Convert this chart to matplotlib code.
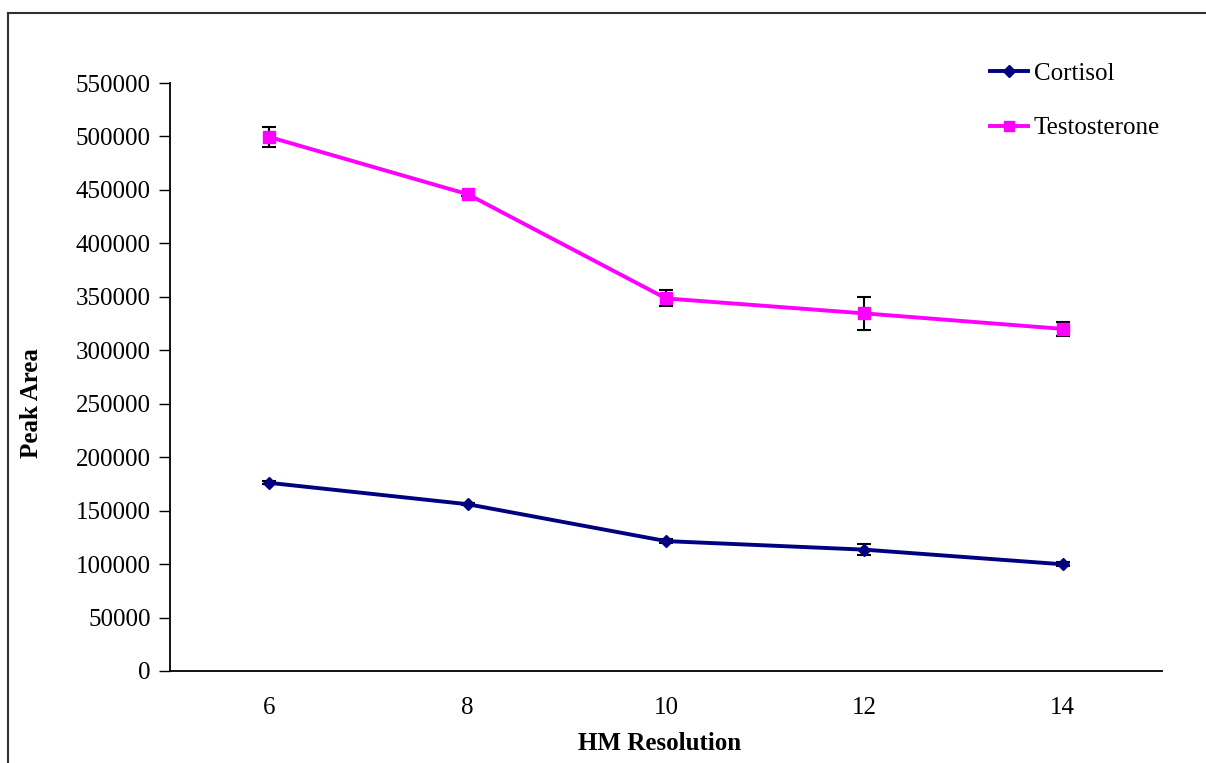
import numpy as np
import matplotlib.pyplot as plt
from matplotlib.lines import Line2D

plt.rcParams['font.family'] = ['Liberation Serif', 'DejaVu Serif']

# HM resolution settings
res = [6, 8, 10, 12, 14]

# peak areas with standard deviations
cortisol = [176000, 156000, 121500, 113500, 99800]
cortisol_err = [1500, 1200, 1500, 5000, 2000]
testosterone = [499500, 446000, 348500, 334500, 320000]
testosterone_err = [9700, 1500, 7500, 15800, 6300]

yticks = np.arange(0, 550001, 50000)

fig = plt.figure(figsize=(12.06, 7.63), dpi=100)
ax = fig.add_axes([0.141, 0.1206, 0.8225, 0.7706])

ax.errorbar(res, cortisol, yerr=cortisol_err, color='#000080', lw=2.8,
            marker='D', ms=6.5, ecolor='black', elinewidth=1.5, capsize=5,
            capthick=1.5, label='Cortisol', zorder=3)
ax.errorbar(res, testosterone, yerr=testosterone_err, color='#FF00FF', lw=2.8,
            marker='s', ms=8, ecolor='black', elinewidth=1.5, capsize=5,
            capthick=1.5, label='Testosterone', zorder=3)

ax.set_xlim(5, 15)
ax.set_ylim(0, 550000)
ax.set_xticks(res)
ax.set_yticks(yticks)
ax.set_yticklabels([str(v) for v in yticks])
ax.tick_params(axis='y', direction='out', length=8, width=1, labelsize=18, pad=6)
ax.tick_params(axis='x', length=0, labelsize=18, pad=19)
ax.spines['top'].set_visible(False)
ax.spines['right'].set_visible(False)
for s in ['left', 'bottom']:
    ax.spines[s].set_linewidth(1.3)

fig.text(31 / 1206, 1 - 403 / 763, 'Peak Area', rotation=90, ha='center', va='center',
         fontsize=18, fontweight='bold')
fig.text(660 / 1206, 1 - 743 / 763, 'HM Resolution', ha='center', va='center',
         fontsize=18, fontweight='bold')

# legend
handles = [Line2D([], [], color='#000080', lw=2.8, marker='D', ms=6),
           Line2D([], [], color='#FF00FF', lw=2.8, marker='s', ms=7)]
fig.legend(handles, ['Cortisol', 'Testosterone'], loc='upper left',
           bbox_to_anchor=(990 / 1206, 1 - 62 / 763), frameon=False,
           fontsize=18, handlelength=1.5, handletextpad=0.25, labelspacing=1.3,
           borderpad=0, borderaxespad=0)

# outer chart frame
fig.add_artist(Line2D([8 / 1206, 1.0], [1 - 13 / 763] * 2, color='#303030', lw=1.5))
fig.add_artist(Line2D([8 / 1206] * 2, [0, 1 - 13 / 763], color='#303030', lw=1.5))

fig.savefig('out.png', dpi=100)
